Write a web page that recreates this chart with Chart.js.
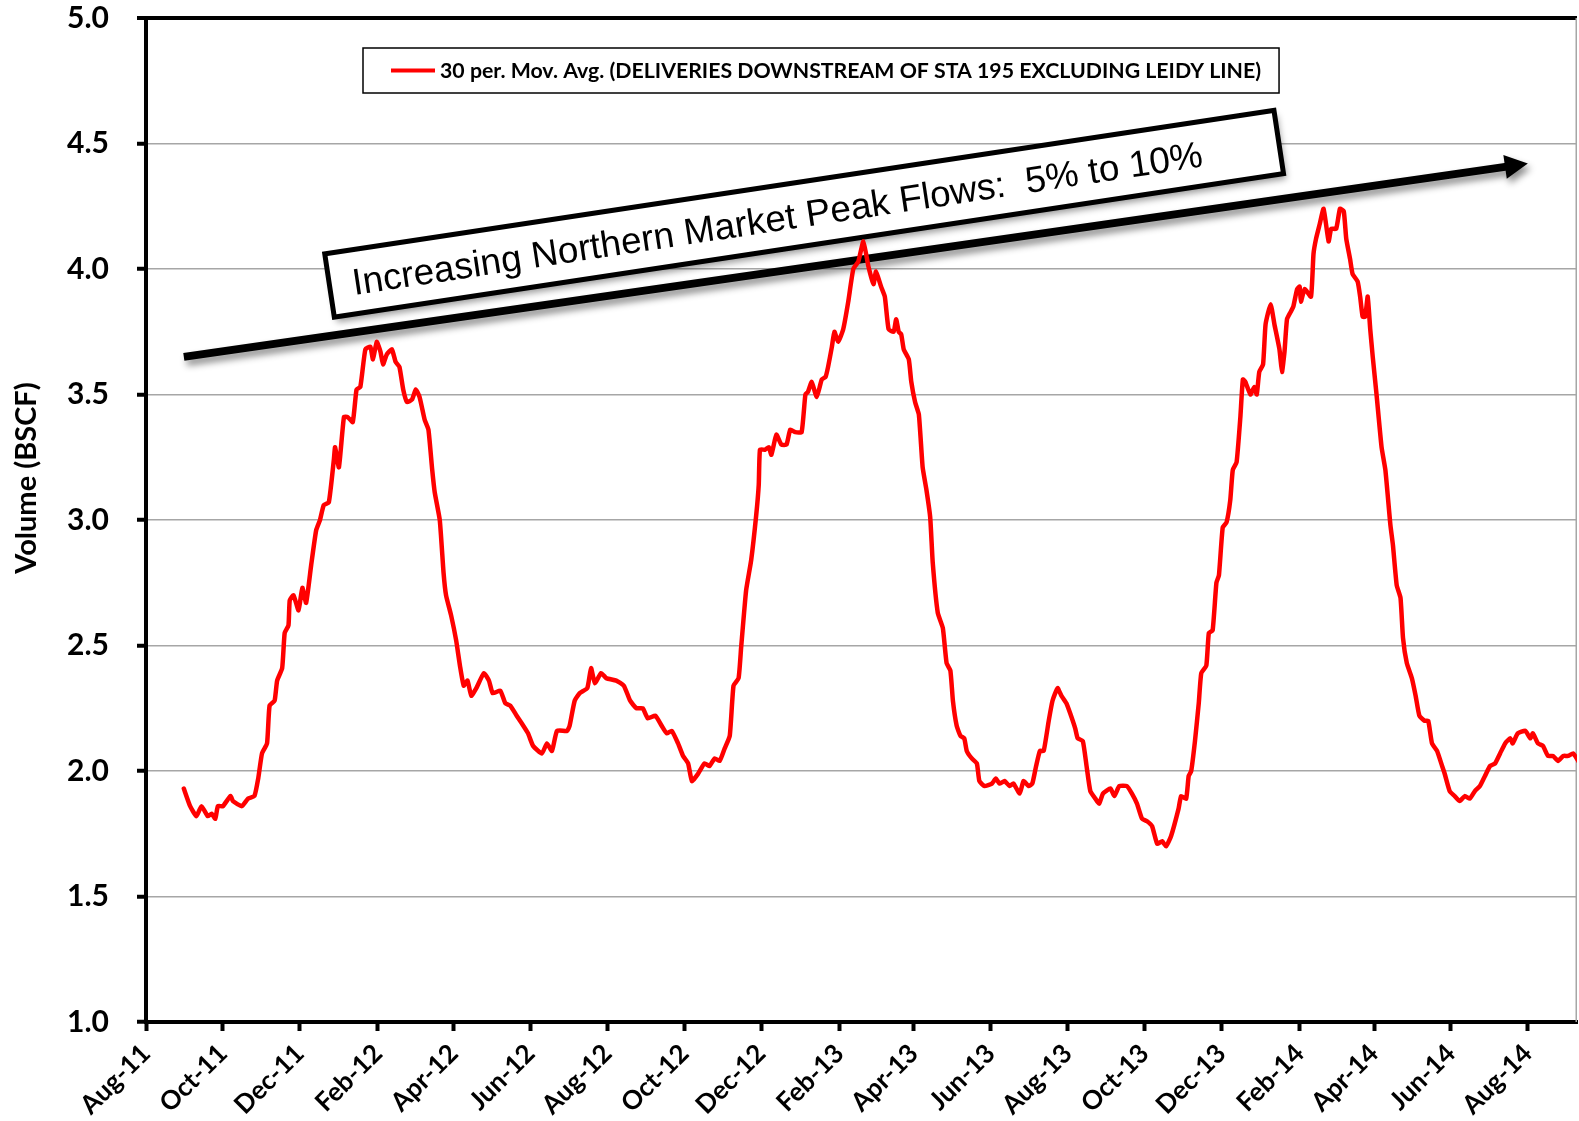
<!DOCTYPE html>
<html>
<head>
<meta charset="utf-8">
<title>Deliveries Downstream of STA 195</title>
<script src="https://cdn.jsdelivr.net/npm/chart.js@4.4.1/dist/chart.umd.min.js"></script>
<style>
  html, body { margin: 0; padding: 0; background: #fff; }
</style>
</head>
<body>
<canvas id="flowChart" width="1579" height="1121"></canvas>
<script>
// 30 period moving average, deliveries downstream of STA 195 (BSCF)
const dates = [
  "2011-08-31","2011-09-05","2011-09-10","2011-09-14","2011-09-19","2011-09-22","2011-09-25","2011-09-27",
  "2011-10-01","2011-10-07","2011-10-09","2011-10-16","2011-10-21","2011-10-26","2011-10-29",
  "2011-11-01","2011-11-05","2011-11-07","2011-11-11","2011-11-13","2011-11-17","2011-11-19","2011-11-22","2011-11-23","2011-11-26","2011-11-30",
  "2011-12-03","2011-12-06","2011-12-10","2011-12-14","2011-12-17","2011-12-20","2011-12-24","2011-12-28","2011-12-29",
  "2012-01-01","2012-01-05","2012-01-08","2012-01-12","2012-01-15","2012-01-18","2012-01-22","2012-01-26","2012-01-28","2012-01-31",
  "2012-02-03","2012-02-05","2012-02-08","2012-02-12","2012-02-15","2012-02-18","2012-02-21","2012-02-24","2012-02-28",
  "2012-03-02","2012-03-05","2012-03-09","2012-03-12","2012-03-15","2012-03-17","2012-03-21","2012-03-24","2012-03-26","2012-03-30",
  "2012-04-03","2012-04-06","2012-04-09","2012-04-12","2012-04-15","2012-04-19","2012-04-25","2012-04-29",
  "2012-05-02","2012-05-08","2012-05-12","2012-05-16","2012-05-21","2012-05-25","2012-05-30",
  "2012-06-03","2012-06-10","2012-06-14","2012-06-18","2012-06-22","2012-06-30",
  "2012-07-02","2012-07-06","2012-07-10","2012-07-16","2012-07-19","2012-07-22","2012-07-27","2012-07-31",
  "2012-08-08","2012-08-14","2012-08-19","2012-08-24","2012-08-29",
  "2012-09-02","2012-09-08","2012-09-13","2012-09-17","2012-09-21","2012-09-26","2012-09-30",
  "2012-10-04","2012-10-07","2012-10-12","2012-10-17","2012-10-21","2012-10-25","2012-10-29",
  "2012-11-02","2012-11-06","2012-11-09","2012-11-13","2012-11-15","2012-11-19","2012-11-23","2012-11-27","2012-11-29","2012-11-30",
  "2012-12-04","2012-12-07","2012-12-09","2012-12-13","2012-12-17","2012-12-21","2012-12-24","2012-12-28",
  "2013-01-02","2013-01-05","2013-01-07","2013-01-10","2013-01-14","2013-01-18","2013-01-21","2013-01-23","2013-01-26","2013-01-28","2013-01-31",
  "2013-02-04","2013-02-08","2013-02-12","2013-02-16","2013-02-20","2013-02-24","2013-02-28",
  "2013-03-02","2013-03-06","2013-03-09","2013-03-12","2013-03-16","2013-03-18","2013-03-20","2013-03-22","2013-03-24","2013-03-28","2013-03-30",
  "2013-04-02","2013-04-05","2013-04-08","2013-04-11","2013-04-14","2013-04-16","2013-04-20","2013-04-24","2013-04-27","2013-04-30",
  "2013-05-02","2013-05-05","2013-05-08","2013-05-11","2013-05-13","2013-05-17","2013-05-21","2013-05-23","2013-05-27",
  "2013-06-02","2013-06-05","2013-06-08","2013-06-12","2013-06-16","2013-06-19","2013-06-24","2013-06-27",
  "2013-07-01","2013-07-04","2013-07-07","2013-07-10","2013-07-13","2013-07-17","2013-07-20","2013-07-24","2013-07-27","2013-07-31",
  "2013-08-03","2013-08-07","2013-08-09","2013-08-13","2013-08-16","2013-08-19","2013-08-23","2013-08-26","2013-08-29",
  "2013-09-04","2013-09-07","2013-09-11","2013-09-17","2013-09-21","2013-09-25","2013-09-29",
  "2013-10-03","2013-10-07","2013-10-11","2013-10-15","2013-10-18","2013-10-22","2013-10-28","2013-10-30",
  "2013-11-03","2013-11-05","2013-11-07","2013-11-10","2013-11-13","2013-11-15","2013-11-19","2013-11-21","2013-11-24","2013-11-27","2013-11-29",
  "2013-12-02","2013-12-05","2013-12-08","2013-12-10","2013-12-13","2013-12-16","2013-12-18","2013-12-20","2013-12-24","2013-12-27","2013-12-29","2013-12-31",
  "2014-01-03","2014-01-05","2014-01-09","2014-01-12","2014-01-16","2014-01-18","2014-01-20","2014-01-22","2014-01-25","2014-01-27","2014-01-30",
  "2014-02-01","2014-02-02","2014-02-05","2014-02-10","2014-02-12","2014-02-14","2014-02-17","2014-02-20","2014-02-24","2014-02-26",
  "2014-03-02","2014-03-05","2014-03-08","2014-03-10","2014-03-13","2014-03-15","2014-03-19","2014-03-21","2014-03-23","2014-03-25","2014-03-27","2014-03-29","2014-03-31",
  "2014-04-03","2014-04-07","2014-04-10","2014-04-14","2014-04-16","2014-04-19","2014-04-22","2014-04-24","2014-04-27",
  "2014-05-01","2014-05-04","2014-05-07","2014-05-11","2014-05-14","2014-05-17","2014-05-21","2014-05-25","2014-05-27","2014-05-31",
  "2014-06-04","2014-06-08","2014-06-12","2014-06-16","2014-06-20","2014-06-24","2014-06-28",
  "2014-07-02","2014-07-06","2014-07-10","2014-07-14","2014-07-18","2014-07-20","2014-07-24","2014-07-30",
  "2014-08-03","2014-08-05","2014-08-09","2014-08-13","2014-08-17","2014-08-21","2014-08-25","2014-08-29",
  "2014-09-02","2014-09-06","2014-09-10"
];

const volumes = [
  1.93,1.86,1.82,1.86,1.82,1.83,1.81,1.86,
  1.86,1.90,1.88,1.86,1.89,1.90,1.97,
  2.07,2.11,2.26,2.28,2.36,2.41,2.55,2.58,2.68,2.70,2.64,
  2.73,2.67,2.82,2.96,3.00,3.06,3.07,3.24,3.29,
  3.21,3.41,3.41,3.39,3.52,3.53,3.68,3.69,3.64,3.71,
  3.67,3.62,3.66,3.68,3.63,3.61,3.52,3.47,3.48,
  3.52,3.49,3.40,3.36,3.20,3.11,3.00,2.79,2.70,2.62,
  2.52,2.42,2.34,2.36,2.30,2.33,2.39,2.36,
  2.31,2.32,2.27,2.26,2.22,2.19,2.15,
  2.10,2.07,2.11,2.08,2.16,2.16,
  2.18,2.28,2.31,2.33,2.41,2.35,2.39,2.37,
  2.36,2.34,2.28,2.25,2.25,
  2.21,2.22,2.18,2.15,2.16,2.11,2.06,
  2.03,1.96,1.99,2.03,2.02,2.05,2.04,
  2.09,2.14,2.34,2.37,2.49,2.72,2.84,3.02,3.14,3.28,
  3.28,3.29,3.26,3.34,3.30,3.30,3.36,3.35,
  3.35,3.50,3.51,3.55,3.49,3.56,3.57,3.61,3.69,3.75,3.71,
  3.76,3.87,4.00,4.03,4.11,4.01,3.94,
  3.99,3.93,3.89,3.76,3.75,3.80,3.75,3.74,3.68,3.64,3.55,
  3.47,3.42,3.21,3.12,3.01,2.83,2.63,2.57,2.43,2.40,
  2.28,2.18,2.14,2.13,2.08,2.05,2.03,1.96,1.94,
  1.95,1.97,1.95,1.96,1.94,1.95,1.91,1.96,
  1.94,1.95,2.02,2.08,2.08,2.20,2.28,2.33,2.30,2.27,
  2.23,2.17,2.13,2.12,2.02,1.92,1.89,1.87,1.91,
  1.93,1.90,1.94,1.94,1.91,1.87,1.81,
  1.80,1.78,1.71,1.72,1.70,1.74,1.85,1.90,
  1.89,1.98,2.00,2.12,2.27,2.39,2.42,2.55,2.56,2.75,2.78,
  2.97,2.99,3.08,3.20,3.23,3.41,3.56,3.55,3.50,3.53,3.50,3.59,
  3.62,3.78,3.86,3.78,3.68,3.59,3.67,3.80,3.83,3.85,3.92,
  3.93,3.87,3.92,3.89,4.06,4.12,4.18,4.24,4.11,4.16,
  4.16,4.24,4.23,4.12,4.04,3.98,3.95,3.89,3.81,3.81,3.89,3.76,3.65,
  3.50,3.29,3.20,2.98,2.90,2.74,2.69,2.53,2.43,
  2.37,2.30,2.22,2.20,2.20,2.11,2.08,2.02,1.99,1.92,
  1.90,1.88,1.90,1.89,1.92,1.94,1.98,
  2.02,2.03,2.07,2.11,2.13,2.11,2.15,2.16,
  2.13,2.15,2.11,2.10,2.06,2.06,2.04,2.06,
  2.06,2.07,2.04
];

const tickLabels = [
  "Aug-11","Oct-11","Dec-11","Feb-12","Apr-12","Jun-12","Aug-12","Oct-12","Dec-12","Feb-13",
  "Apr-13","Jun-13","Aug-13","Oct-13","Dec-13","Feb-14","Apr-14","Jun-14","Aug-14"
];
const axisEnd = "2014-09-09";

const seriesLabel = "30 per. Mov. Avg. (DELIVERIES DOWNSTREAM OF STA 195 EXCLUDING LEIDY LINE)";
const yTitle = "Volume (BSCF)";

// trend arrow and its callout, placed in [date, volume] terms
const trendStart = ["2011-08-31", 3.65];
const trendEnd = ["2014-08-01", 4.42];
const calloutText = "Increasing Northern Market Peak Flows:  5% to 10%";
const calloutAt = ["2013-01-04", 4.22];

const MONTHS = ["Jan","Feb","Mar","Apr","May","Jun","Jul","Aug","Sep","Oct","Nov","Dec"];
const origin = Date.UTC(2011, 7, 1);
const DAY = 86400000;

function dayNumber(iso) {
  const [y, m, d] = iso.split("-").map(Number);
  return (Date.UTC(y, m - 1, d) - origin) / DAY;
}
function labelDay(label) {
  const [mon, yy] = label.split("-");
  return (Date.UTC(2000 + Number(yy), MONTHS.indexOf(mon), 1) - origin) / DAY;
}

const points = dates.map((d, i) => ({ x: dayNumber(d), y: volumes[i] }));
const tickDays = tickLabels.map(labelDay);

Chart.defaults.font.family = "Lato";
Chart.defaults.color = "#000";

const plotFrame = {
  id: "plotFrame",
  beforeDatasetsDraw(chart) {
    const { ctx, chartArea: a } = chart;
    ctx.save();
    ctx.strokeStyle = "#a6a6a6";
    ctx.lineWidth = 1.5;
    ctx.beginPath();
    ctx.moveTo(a.right - 0.75, a.top);
    ctx.lineTo(a.right - 0.75, a.bottom);
    ctx.stroke();
    ctx.restore();
  }
};

const trendArrow = {
  id: "trendArrow",
  beforeDatasetsDraw(chart) {
    const { ctx, scales: { x, y } } = chart;
    const x0 = x.getPixelForValue(dayNumber(trendStart[0]));
    const y0 = y.getPixelForValue(trendStart[1]);
    const x1 = x.getPixelForValue(dayNumber(trendEnd[0]));
    const y1 = y.getPixelForValue(trendEnd[1]);
    const len = Math.hypot(x1 - x0, y1 - y0);
    const head = 23, half = 12, shaft = 4;

    ctx.save();
    ctx.translate(x0, y0);
    ctx.rotate(Math.atan2(y1 - y0, x1 - x0));
    ctx.shadowColor = "rgba(0,0,0,0.45)";
    ctx.shadowBlur = 7;
    ctx.shadowOffsetX = 3;
    ctx.shadowOffsetY = 5;
    ctx.fillStyle = "#000";
    ctx.beginPath();
    ctx.moveTo(0, -shaft);
    ctx.lineTo(len - head, -shaft);
    ctx.lineTo(len - head, -half);
    ctx.lineTo(len, 0);
    ctx.lineTo(len - head, half);
    ctx.lineTo(len - head, shaft);
    ctx.lineTo(0, shaft);
    ctx.closePath();
    ctx.fill();
    ctx.restore();

    // callout box, tilted along with the arrow
    const cx = x.getPixelForValue(dayNumber(calloutAt[0]));
    const cy = y.getPixelForValue(calloutAt[1]);
    const w = 960, h = 64;
    ctx.save();
    ctx.translate(cx, cy);
    ctx.rotate(-8.6 * Math.PI / 180);
    ctx.shadowColor = "rgba(0,0,0,0.4)";
    ctx.shadowBlur = 7;
    ctx.shadowOffsetX = 3;
    ctx.shadowOffsetY = 5;
    ctx.fillStyle = "#fff";
    ctx.fillRect(-w / 2, -h / 2, w, h);
    ctx.shadowColor = "transparent";
    ctx.strokeStyle = "#000";
    ctx.lineWidth = 5;
    ctx.strokeRect(-w / 2, -h / 2, w, h);
    ctx.fillStyle = "#000";
    ctx.font = "37px 'Liberation Sans', Arial, sans-serif";
    ctx.textBaseline = "alphabetic";
    ctx.fillText(calloutText, -w / 2 + 23, 13);
    ctx.restore();
  }
};

const boxedLegend = {
  id: "boxedLegend",
  afterDraw(chart) {
    const { ctx, chartArea: a } = chart;
    const ds = chart.data.datasets[0];
    ctx.save();
    ctx.font = "bold 21.3px Lato";
    const textW = ctx.measureText(ds.label).width;
    const left = a.left + 217, top = a.top + 30, h = 45;
    const w = 28 + 44 + 5 + textW + 18;
    ctx.fillStyle = "#fff";
    ctx.fillRect(left, top, w, h);
    ctx.strokeStyle = "#000";
    ctx.lineWidth = 1.5;
    ctx.strokeRect(left, top, w, h);
    ctx.strokeStyle = ds.borderColor;
    ctx.lineWidth = 4;
    ctx.beginPath();
    ctx.moveTo(left + 28, top + h / 2);
    ctx.lineTo(left + 72, top + h / 2);
    ctx.stroke();
    ctx.fillStyle = "#000";
    ctx.textBaseline = "middle";
    ctx.fillText(ds.label, left + 77, top + h / 2 + 1);
    ctx.restore();
  }
};

const sideTitle = {
  id: "sideTitle",
  afterDraw(chart) {
    const { ctx, chartArea: a } = chart;
    ctx.save();
    ctx.translate(27, a.top + 460);
    ctx.rotate(-Math.PI / 2);
    ctx.font = "bold 29px Lato";
    ctx.textAlign = "center";
    ctx.textBaseline = "middle";
    ctx.fillStyle = "#000";
    ctx.fillText(yTitle, 0, 0);
    ctx.restore();
  }
};

new Chart(document.getElementById("flowChart"), {
  type: "line",
  data: {
    datasets: [
      {
        label: seriesLabel,
        data: points,
        borderColor: "#ff0000",
        borderWidth: 4.5,
        pointRadius: 0,
        tension: 0.15,
        borderJoinStyle: "round",
        borderCapStyle: "round",
      },
    ],
  },
  options: {
    responsive: false,
    animation: false,
    layout: { padding: { top: 18, right: 2, left: 0, bottom: 0 } },
    plugins: {
      legend: { display: false },
      tooltip: { enabled: false },
    },
    scales: {
      x: {
        type: "linear",
        min: 0,
        max: dayNumber(axisEnd),
        afterBuildTicks: (scale) => {
          scale.ticks = tickDays.map((v) => ({ value: v }));
        },
        afterFit: (scale) => {
          scale.height = 99;
          scale.paddingLeft = 0;
          scale.paddingRight = 0;
        },
        ticks: {
          autoSkip: false,
          maxRotation: 45,
          minRotation: 45,
          padding: 7,
          font: { size: 26, weight: "bold" },
          callback: (v, i) => tickLabels[i],
        },
        grid: {
          drawOnChartArea: false,
          tickColor: "#000",
          tickWidth: 4,
          tickLength: 9,
        },
        border: { color: "#000", width: 4 },
      },
      y: {
        min: 1,
        max: 5,
        afterFit: (scale) => {
          scale.width = 146;
          scale.paddingTop = 0;
          scale.paddingBottom = 0;
        },
        ticks: {
          stepSize: 0.5,
          padding: 28,
          font: { size: 30, weight: "bold" },
          callback: (v) => v.toFixed(1),
        },
        grid: {
          color: (c) => (c.tick && c.tick.value === 5 ? "#000" : "#a6a6a6"),
          lineWidth: (c) => (c.tick && c.tick.value === 5 ? 4 : 1.5),
          tickColor: "#000",
          tickWidth: 4,
          tickLength: 9,
        },
        border: { color: "#000", width: 4 },
      },
    },
  },
  plugins: [plotFrame, trendArrow, boxedLegend, sideTitle],
});
</script>
</body>
</html>
